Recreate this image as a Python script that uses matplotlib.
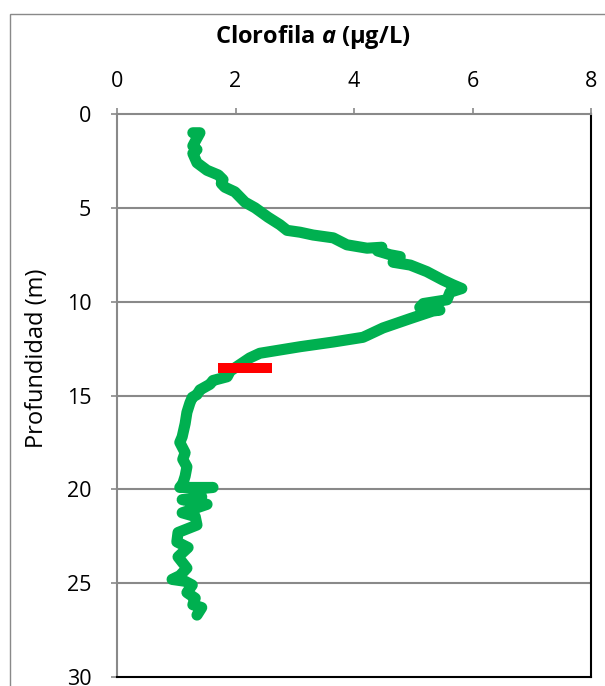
import matplotlib.pyplot as plt
from matplotlib.patches import Rectangle

# chlorophyll profile
chl = [1.28, 1.40, 1.33, 1.28, 1.35, 1.28, 1.35, 1.52, 1.71, 1.79,
       1.76, 1.82, 1.99, 2.16, 2.33, 2.55, 2.75, 2.87, 3.09, 3.31,
       3.65, 3.88, 4.22, 4.47, 4.40, 4.61, 4.78, 4.66, 4.95, 5.23,
       5.50, 5.67, 5.82, 5.62, 5.57, 5.17, 5.11, 5.45, 5.33, 4.95,
       4.49, 4.22, 4.15, 3.65, 3.09, 2.41, 2.24, 1.91, 1.86, 1.62,
       1.57, 1.40, 1.35, 1.27, 1.23, 1.18, 1.15, 1.10, 1.06, 1.15,
       1.11, 1.18, 1.15, 1.11, 1.06, 1.62, 1.28, 1.43, 1.10, 1.52,
       1.10, 1.32, 1.35, 1.03, 1.01, 1.20, 1.03, 1.18, 1.06, 0.93,
       1.15, 1.27, 1.18, 1.32, 1.28, 1.43, 1.35]
depth = [1.0, 1.0, 1.4, 1.7, 1.9, 2.1, 2.6, 3.0, 3.25, 3.5,
         3.7, 3.9, 4.15, 4.7, 5.0, 5.5, 5.9, 6.2, 6.3, 6.45,
         6.6, 6.97, 7.15, 7.1, 7.3, 7.5, 7.6, 7.9, 8.05, 8.4,
         8.85, 9.1, 9.3, 9.5, 9.9, 10.1, 10.3, 10.45, 10.5, 10.9,
         11.4, 11.8, 11.9, 12.15, 12.4, 12.75, 13.0, 13.7, 14.0, 14.2,
         14.4, 14.7, 14.95, 15.1, 15.4, 15.9, 16.5, 17.2, 17.5, 18.05,
         18.4, 18.8, 19.3, 19.7, 19.9, 19.9, 20.0, 20.4, 20.55, 20.8,
         21.25, 21.45, 21.9, 22.3, 22.8, 23.1, 23.6, 24.2, 24.6, 24.8,
         24.9, 25.1, 25.5, 25.8, 26.15, 26.3, 26.7]

# red marker bar
bar_x = [1.71, 2.62]
bar_y = [13.52, 13.52]

xticks = [0, 2, 4, 6, 8]
yticks = [0, 5, 10, 15, 20, 25, 30]

plt.rcParams["font.family"] = ["Open Sans", "DejaVu Sans"]
plt.rcParams["mathtext.fontset"] = "custom"
plt.rcParams["mathtext.it"] = "Open Sans:bold:italic"
plt.rcParams["mathtext.rm"] = "Open Sans:bold"

W, H = 605, 686
fig = plt.figure(figsize=(W / 100, H / 100), dpi=100)
ax = fig.add_axes([117 / W, 1 - 677 / H, (591 - 117) / W, (677 - 114) / H])

gray = "#898989"
for y in yticks[1:-1]:
    ax.axhline(y, color=gray, lw=1.5, zorder=1)

ax.plot(chl, depth, color="#00B050", lw=8, solid_capstyle="round",
        solid_joinstyle="round", zorder=3)
ax.plot(bar_x, bar_y, color="#FF0000", lw=7.2, solid_capstyle="butt", zorder=4)

ax.set_xlim(0, 8)
ax.set_ylim(30, 0)
ax.set_xticks(xticks)
ax.set_yticks(yticks)
ax.xaxis.tick_top()
ax.tick_params(axis="x", direction="out", length=4.5, width=1.2, color=gray,
               labelsize=15.5, pad=11)
ax.tick_params(axis="y", direction="out", length=4.5, width=1.2, color=gray,
               labelsize=15.5, pad=14)

ax.spines["top"].set_color(gray)
ax.spines["left"].set_color(gray)
ax.spines["right"].set_color("black")
ax.spines["bottom"].set_color("black")
for s in ax.spines.values():
    s.set_linewidth(1.5)

fig.text(313 / W, 1 - 43 / H, r"Clorofila $\mathit{a}$ (µg/L)", ha="center",
         va="baseline", fontsize=17, fontweight="bold")
fig.text(37 / W, 1 - 358 / H, "Profundidad (m)", ha="center", va="center",
         rotation=90, fontsize=17)

fig.add_artist(Rectangle((10 / W, -0.1), 1.2, 1 - 14 / H + 0.1,
                         transform=fig.transFigure, fill=False,
                         edgecolor=gray, lw=1))

fig.savefig("out.png", dpi=100)
